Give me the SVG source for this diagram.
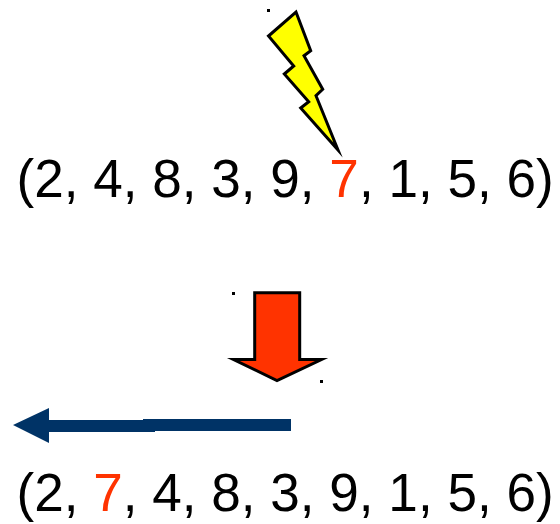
<svg xmlns="http://www.w3.org/2000/svg" width="560" height="524" viewBox="0 0 560 524">
<style>
text{font-family:"Liberation Sans",Arial,sans-serif;font-size:53.1px;fill:#000}
.r{fill:#ff3300}
.d{fill:#000}
.o{stroke:#000;stroke-width:3;stroke-linejoin:miter;stroke-miterlimit:10}
</style>
<rect width="560" height="524" fill="#fff"/>
<g id="bolt">
<rect class="d" x="267" y="9" width="3" height="3"/>
<polygon class="o" fill="#ffff00" points="296,12 310.7,50.7 304,55.7 322.7,89.3 316,95.7 338,150 300.7,108 308.7,101.7 284.3,74 293.7,66 268.5,36"/>
</g>
<g id="sequence-before"><text x="16.5" y="197">(2, 4, 8, 3, 9, <tspan class="r">7</tspan>, 1, 5, 6)</text></g>
<g id="down-arrow">
<rect class="d" x="232" y="292" width="3" height="3"/>
<rect class="d" x="320" y="380" width="3" height="3"/>
<polygon class="o" fill="#ff3300" points="254.7,292.7 299.7,292.7 299.7,359.5 321.5,359.5 277,380.5 233.5,359.5 254.7,359.5"/>
</g>
<g id="connectors">
<polygon fill="#003366" points="13,425 49,408 49,420 143,420 143,419 291,419 291,431 155,431 155,432 49,432 49,443"/>
</g>
<g id="sequence-after"><text x="16.5" y="511">(2, <tspan class="r">7</tspan>, 4, 8, 3, 9, 1, 5, 6)</text></g>
</svg>
